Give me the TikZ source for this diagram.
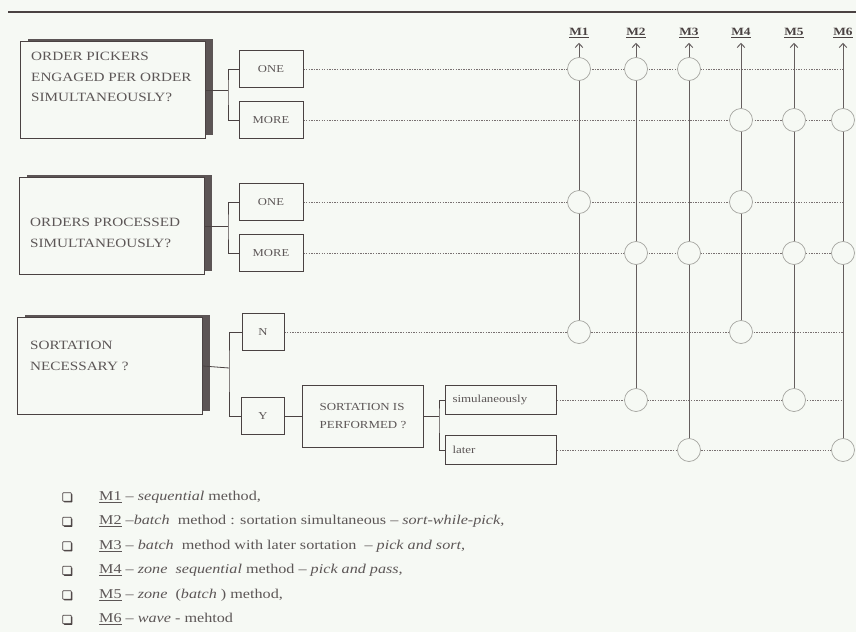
\documentclass[tikz,border=0pt]{standalone}
\usepackage{fontspec}
\setmainfont{Liberation Serif}[FakeStretch=1.2]
\usetikzlibrary{arrows.meta, positioning, shadows, backgrounds}
\definecolor{paper}{RGB}{246, 249, 244}
\definecolor{ink}{RGB}{74, 66, 66}
\definecolor{inktext}{RGB}{92, 86, 86}
\definecolor{dotgray}{RGB}{120, 112, 112}
\definecolor{ringgray}{RGB}{165, 165, 160}

\begin{document}
\begin{tikzpicture}[x=0.03cm, y=-0.03cm,
    qbox/.style={rectangle, draw=ink, line width=0.8pt, fill=paper, minimum width=5.55cm, minimum height=2.9cm,
        general shadow={fill=ink!90, shadow xshift=6pt, shadow yshift=2.5pt}},
    qtext/.style={align=left, inner sep=0pt, text=inktext, font=\fontsize{10.8}{17.5}\selectfont},
    ans/.style={rectangle, draw=ink, line width=0.8pt, fill=paper, text=inktext, minimum width=1.92cm, minimum height=1.11cm,
        font=\fontsize{9}{11}\selectfont},
    opt/.style={rectangle, draw=ink, line width=0.9pt, fill=paper, text=inktext, inner xsep=0.21cm, text width=2.91cm,
        align=left, minimum height=0.86cm, font=\fontsize{9.2}{11}\selectfont},
    link/.style={draw=ink, line width=0.7pt},
    row/.style={draw=dotgray, line width=0.5pt, dash pattern=on 1.2pt off 1pt},
    col/.style={draw=ink!85, line width=0.55pt, -{Straight Barb[length=3.5pt, width=6.5pt, line width=0.8pt]}, shorten >=3pt},
    ring/.style={circle, draw=ringgray, line width=0.6pt, fill=paper, minimum size=0.69cm, inner sep=0pt},
    mlab/.style={inner sep=1pt, text=ink, font=\fontsize{9.5}{11}\selectfont\bfseries},
    chk/.style={rectangle, draw=ink, line width=0.6pt, fill=paper, minimum size=0.25cm, inner sep=0pt, rounded corners=0.4pt,
        general shadow={fill=ink, shadow xshift=1pt, shadow yshift=-1pt}},
    legend/.style={anchor=west, inner sep=0pt, text=inktext, font=\fontsize{11.5}{14}\selectfont}
]
\useasboundingbox (0,0) rectangle (856,632);

% method labels
\node[mlab] (t1) at (579,33) {\underline{M1}};
\node[mlab] (t2) at (636,33) {\underline{M2}};
\node[mlab] (t3) at (689,33) {\underline{M3}};
\node[mlab] (t4) at (741,33) {\underline{M4}};
\node[mlab] (t5) at (794,33) {\underline{M5}};
\node[mlab] (t6) at (843,33) {\underline{M6}};

% questions
\node[qbox] (q1) at (113,90) {};
\node[qtext, anchor=north west] (q1t) at (31,52) {ORDER PICKERS\\ENGAGED PER ORDER\\SIMULTANEOUSLY?};
\node[qbox] (q2) at (112,226) {};
\node[qtext, anchor=north west] (q2t) at (30,218) {ORDERS PROCESSED\\SIMULTANEOUSLY?};
\node[qbox] (q3) at (110,366) {};
\node[qtext, anchor=north west] (q3t) at (30,341) {SORTATION\\NECESSARY ?};

% answers
\node[ans] (pk1) at (271,69) {ONE};
\node[ans] (pk2) at (271,120) {MORE};
\node[ans] (od1) at (271,202) {ONE};
\node[ans] (od2) at (271,253) {MORE};
\node[ans, minimum width=1.26cm] (srN) at (263,332) {N};
\node[ans, minimum width=1.29cm] (srY) at (263,416) {Y};
\node[ans, minimum width=3.63cm, minimum height=1.86cm, align=left, font=\fontsize{9.2}{15}\selectfont] (sp) at (363,416) {SORTATION IS\\PERFORMED ?};
\node[opt] (sim) at (501,400) {simulaneously};
\node[opt] (lat) at (501,450) {later};

% branch lines
\coordinate (j1) at (228,90);
\coordinate (j2) at (228,226);
\coordinate (j3) at (229,368);
\coordinate (j4) at (439,416);
\draw[link] (q1.east) -- (j1);
\draw[link] (pk1.west) -| (j1) |- (pk2.west);
\draw[link] (q2.east) -- (j2);
\draw[link] (od1.west) -| (j2) |- (od2.west);
\draw[link] (q3.east) -- (j3);
\draw[link] (srN.west) -| (j3) |- (srY.west);
\draw[link] (srY) -- (sp);
\draw[link] (sp.east) -- (j4);
\draw[link] (sim.west) -| (j4) |- (lat.west);

% matrix of methods
\foreach \src/\r/\cl in {pk1/1/{1,2,3}, pk2/2/{4,5,6}, od1/3/{1,4}, od2/4/{2,3,5,6}, srN/5/{1,4}, sim/6/{2,5}, lat/7/{3,6}}
    \foreach \c in \cl
        \node[ring] (k-\r-\c) at (t\c |- \src.east) {};

\begin{scope}[on background layer]
    \fill[paper] (0,0) rectangle (856,632);
    \draw[ink, line width=0.9pt] (8,12) -- (856,12);
    \foreach \src in {pk1,pk2,od1,od2,srN,sim,lat}
        \draw[row] (\src.east) -- (\src.east -| t6);
    \foreach \c/\r in {1/5,2/6,3/7,4/5,5/6,6/7}
        \draw[col] (k-\r-\c.center) -- (t\c);
\end{scope}

% legend
\foreach \i/\y in {1/497,2/521.5,3/546,4/570.5,5/595,6/619.5}
    \node[chk] (b\i) at (67,\y) {};
\node[legend] (l1) at (99,497) {\underline{M1} -- \textit{sequential} method,};
\node[legend] (l2) at (99,521.5) {\underline{M2} --\textit{batch}\ \ method : sortation simultaneous -- \textit{sort-while-pick,}};
\node[legend] (l3) at (99,546) {\underline{M3} -- \textit{batch}\ \ method with later sortation\ \ -- \textit{pick and sort,}};
\node[legend] (l4) at (99,570.5) {\underline{M4} -- \textit{zone\ \ sequential} method -- \textit{pick and pass,}};
\node[legend] (l5) at (99,595) {\underline{M5} -- \textit{zone}\ \ (\textit{batch} ) method,};
\node[legend] (l6) at (99,619.5) {\underline{M6} -- \textit{wave} - mehtod};
\end{tikzpicture}
\end{document}
